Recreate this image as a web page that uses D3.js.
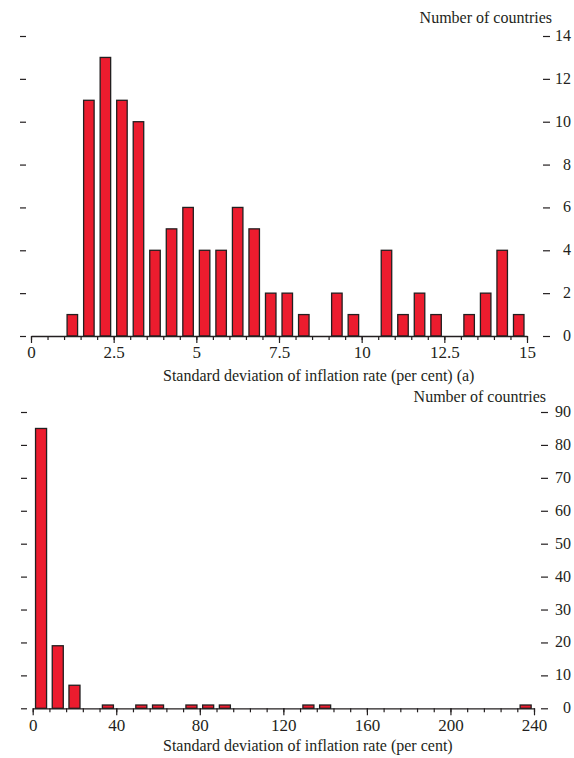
<!DOCTYPE html>
<html><head><meta charset="utf-8">
<script src="https://cdn.jsdelivr.net/npm/d3@7/dist/d3.min.js"></script>
<style>
body{margin:0;background:#fff}
text{font-family:"Liberation Serif","Times New Roman",serif;font-size:16px;fill:#231f20}
</style>
</head><body><svg id="c" width="574" height="758"></svg>
<script>
// ---- Top panel: standard deviation below 15 per cent, bins of 0.5 ----
const topBinStarts = [0,0.5,1,1.5,2,2.5,3,3.5,4,4.5,5,5.5,6,6.5,7,7.5,8,8.5,9,9.5,10,10.5,11,11.5,12,12.5,13,13.5,14,14.5];
const topCounts    = [0,0,1,11,13,11,10,4,5,6,4,4,6,5,2,2,1,0,2,1,0,4,1,2,1,0,1,2,4,1];
const topXMajor    = [0,2.5,5,7.5,10,12.5,15];
const topYTicks    = [0,2,4,6,8,10,12,14];
const topXTitle    = "Standard deviation of inflation rate (per cent) (a)";

// ---- Bottom panel: all countries, bins of 8 ----
const botBinStarts = [0,8,16,24,32,40,48,56,64,72,80,88,96,104,112,120,128,136,144,152,160,168,176,184,192,200,208,216,224,232];
const botCounts    = [85,19,7,0,1,0,1,1,0,1,1,1,0,0,0,0,1,1,0,0,0,0,0,0,0,0,0,0,0,1];
const botXMajor    = [0,40,80,120,160,200,240];
const botYTicks    = [0,10,20,30,40,50,60,70,80,90];
const botXTitle    = "Standard deviation of inflation rate (per cent)";

const yTitle = "Number of countries";
const BAR_FILL = "#ec1c2e", INK = "#231f20";

const svg = d3.select("#c");

function panel(cfg){
  const g = svg.append("g");
  const x = d3.scaleLinear().domain(cfg.xDomain).range(cfg.xRange);
  const y = d3.scaleLinear().domain(cfg.yDomain).range(cfg.yRange);
  const bw = (x(cfg.binW) - x(0));
  const data = cfg.starts.map((s,i)=>({s, c: cfg.counts[i]})).filter(d=>d.c>0);

  // bars
  g.selectAll("rect.bar").data(data).enter().append("rect")
    .attr("class","bar")
    .attr("x", d => x(d.s + cfg.binW/2) - bw*cfg.frac/2)
    .attr("width", bw*cfg.frac)
    .attr("y", d => y(d.c))
    .attr("height", d => y(0) - y(d.c))
    .attr("fill", BAR_FILL)
    .attr("stroke", INK)
    .attr("stroke-width", 1.3);

  // x axis: minor ticks
  const minor = cfg.starts.concat([cfg.xDomain[1]]);
  const gxMinor = g.append("g").attr("transform",`translate(0,${y(0)})`)
    .call(d3.axisBottom(x).tickValues(minor).tickSize(4).tickSizeOuter(0).tickFormat(""));
  // x axis: major ticks with labels
  const gxMajor = g.append("g").attr("transform",`translate(0,${y(0)})`)
    .call(d3.axisBottom(x).tickValues(cfg.xMajor).tickSize(7).tickSizeOuter(0).tickPadding(cfg.xPad).tickFormat(d3.format("")));
  gxMajor.select(".domain").remove();
  [gxMinor, gxMajor].forEach(a=>{
    a.selectAll("line").attr("stroke",INK).attr("stroke-width",1.2);
    a.selectAll(".domain").attr("stroke",INK).attr("stroke-width",1.3);
    a.selectAll("text").style("font-size","17px").attr("fill",INK).style("font-family",'"Liberation Serif",serif');
  });

  // left ticks (unlabelled)
  const gl = g.append("g").attr("transform",`translate(${cfg.leftX},0)`)
    .call(d3.axisLeft(y).tickValues(cfg.yTicks).tickSize(6).tickFormat(""));
  gl.select(".domain").remove();
  gl.selectAll("line").attr("stroke",INK).attr("stroke-width",1.2);

  // right ticks with labels (right-aligned)
  const gr = g.append("g").attr("transform",`translate(${cfg.rightX},0)`)
    .call(d3.axisRight(y).tickValues(cfg.yTicks).tickSize(7).tickFormat(d3.format("")));
  gr.select(".domain").remove();
  gr.selectAll("line").attr("stroke",INK).attr("stroke-width",1.2);
  gr.selectAll("text").attr("x", 571 - cfg.rightX).attr("text-anchor","end").attr("dy","0.28em")
    .style("font-size","16px").attr("fill",INK).style("font-family",'"Liberation Serif",serif');

  // titles
  g.append("text").attr("x", cfg.yTitleX).attr("y", cfg.yTitleY).attr("text-anchor","end").text(yTitle);
  g.append("text").attr("x", 163).attr("y", cfg.xTitleY).text(cfg.xTitle);
}

panel({
  starts: topBinStarts, counts: topCounts, binW: 0.5, frac: 0.635,
  xDomain:[0,15], xRange:[31,527], yDomain:[0,14], yRange:[336,36],
  xMajor: topXMajor, yTicks: topYTicks, xPad: 3,
  leftX: 26, rightX: 543, yTitleX: 552, yTitleY: 22.5, xTitleY: 381, xTitle: topXTitle
});
panel({
  starts: botBinStarts, counts: botCounts, binW: 8, frac: 0.66,
  xDomain:[0,240], xRange:[32.7,534], yDomain:[0,90], yRange:[708.3,412],
  xMajor: botXMajor, yTicks: botYTicks, xPad: 4,
  leftX: 27, rightX: 541, yTitleX: 546, yTitleY: 401.5, xTitleY: 751, xTitle: botXTitle
});
</script>
</body></html>
